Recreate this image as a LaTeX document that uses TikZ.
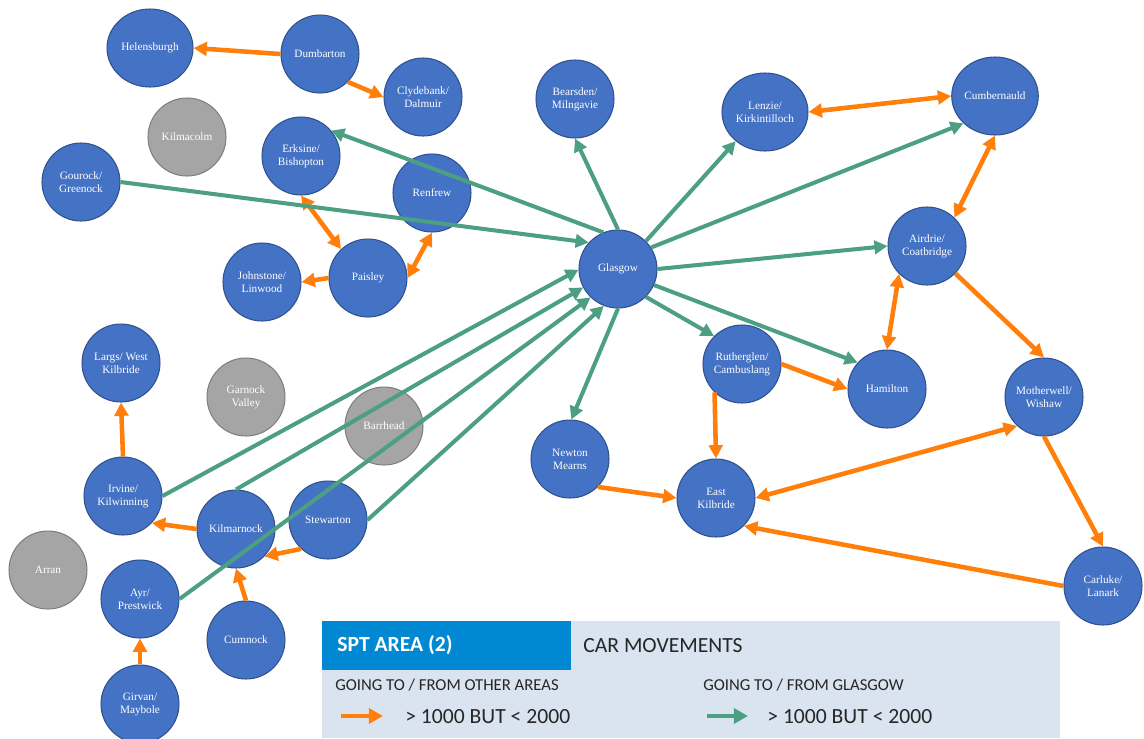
\documentclass[tikz,border=0pt]{standalone}
\usepackage{fontspec}
\setmainfont{Liberation Serif}
\newfontfamily\legendfont{Carlito}
\usetikzlibrary{arrows.meta,shapes.geometric}
\definecolor{nodeblue}{HTML}{4472C4}
\definecolor{nodeedge}{HTML}{2F528F}
\definecolor{graynode}{HTML}{A5A5A5}
\definecolor{grayedge}{HTML}{7F7F7F}
\definecolor{orangeln}{HTML}{FF7F0A}
\definecolor{greenln}{HTML}{4C9F83}
\definecolor{legendbg}{HTML}{DAE3F0}
\definecolor{hdrblue}{HTML}{0089D2}
\begin{document}
\begin{tikzpicture}[x=0.02cm,y=-0.02cm,
 town/.style={circle,fill=nodeblue,draw=nodeedge,line width=0.6pt,minimum size=1.56cm,inner sep=0pt,text=white,align=center,font=\fontsize{6.4}{7.4}\selectfont},
 wide/.style={ellipse,minimum width=1.72cm,minimum height=1.56cm},
 other/.style={town,fill=graynode,draw=grayedge},
 oarr/.style={draw=orangeln,line width=2.6pt,-{Triangle[length=7.6pt,width=7.8pt]}},
 oboth/.style={draw=orangeln,line width=2.6pt,{Triangle[length=7.6pt,width=7.8pt]}-{Triangle[length=7.6pt,width=7.8pt]}},
 garr/.style={draw=greenln,line width=2.3pt,-{Triangle[length=7.4pt,width=7.6pt]}},
 legtext/.style={anchor=base west,inner sep=0pt,font=\legendfont\fontsize{12.3}{14}\selectfont,text=black!85},
 legsmall/.style={anchor=base west,inner sep=0pt,font=\legendfont\fontsize{9.5}{11}\selectfont,text=black!85},
]
\useasboundingbox (0,0) rectangle (1144,738);

% nodes
\node[town,wide] (helensburgh) at (150,48) {Helensburgh};
\node[town] (dumbarton) at (320,54) {Dumbarton};
\node[town] (clydebank) at (423,97) {Clydebank/\\Dalmuir};
\node[other] (kilmacolm) at (187,137) {Kilmacolm};
\node[town] (erksine) at (301,156) {Erksine/\\Bishopton};
\node[town] (gourock) at (81,182) {Gourock/\\Greenock};
\node[town] (renfrew) at (432,193) {Renfrew};
\node[town] (johnstone) at (262,282) {Johnstone/\\Linwood};
\node[town] (paisley) at (368,278) {Paisley};
\node[town] (bearsden) at (575,99) {Bearsden/\\Milngavie};
\node[town,wide] (lenzie) at (765,112) {Lenzie/\\Kirkintilloch};
\node[town] (glasgow) at (618,269) {Glasgow};
\node[town,wide] (cumbernauld) at (995,96) {Cumbernauld};
\node[town] (airdrie) at (927,246) {Airdrie/\\Coatbridge};
\node[town] (largs) at (121,363) {Largs/ West\\Kilbride};
\node[other] (garnock) at (246,397) {Garnock\\Valley};
\node[other] (barrhead) at (384,426) {Barrhead};
\node[town] (irvine) at (123,496) {Irvine/\\Kilwinning};
\node[town] (kilmarnock) at (236,529) {Kilmarnock};
\node[town] (stewarton) at (328,520) {Stewarton};
\node[other] (arran) at (48,570) {Arran};
\node[town] (ayr) at (140,599) {Ayr/\\Prestwick};
\node[town] (cumnock) at (246,640) {Cumnock};
\node[town] (girvan) at (140,704) {Girvan/\\Maybole};
\node[town] (rutherglen) at (742,364) {Rutherglen/\\Cambuslang};
\node[town] (hamilton) at (887,389) {Hamilton};
\node[town] (newton) at (570,459) {Newton\\Mearns};
\node[town] (ek) at (716,498) {East\\Kilbride};
\node[town] (motherwell) at (1044,397) {Motherwell/\\Wishaw};
\node[town] (carluke) at (1103,586) {Carluke/\\Lanark};

% orange connectors (other areas)
\draw[oarr] (dumbarton.west) -- (helensburgh.east);
\draw[oarr] (dumbarton.-45) -- (clydebank.west);
\draw[oboth] (erksine.south) -- (paisley.133);
\draw[oboth] (paisley.east) -- (renfrew.south);
\draw[oarr] (paisley.west) -- (johnstone.east);
\draw[oboth] (lenzie.east) -- (cumbernauld.west);
\draw[oboth] (cumbernauld.south) -- (airdrie.46);
\draw[oarr] (airdrie.-44) -- (motherwell.north);
\draw[oboth] (airdrie.225) -- (hamilton.north);
\draw[oarr] (rutherglen.east) -- (hamilton.west);
\draw[oarr] (rutherglen.226) -- (ek.north);
\draw[oarr] (newton.-45) -- (ek.west);
\draw[oboth] (ek.east) -- (motherwell.227);
\draw[oarr] (carluke.west) -- (ek.-45);
\draw[oarr] (motherwell.south) -- (carluke.north);
\draw[oarr] (irvine.north) -- (largs.south);
\draw[oarr] (kilmarnock.west) -- (irvine.-43);
\draw[oarr] (stewarton.227) -- (kilmarnock.-44);
\draw[oarr] (cumnock.north) -- (kilmarnock.south);
\draw[oarr] (girvan.north) -- (ayr.south);

% green connectors (Glasgow)
\draw[garr] (glasgow.112) -- (erksine.40);
\draw[garr] (gourock.east) -- (glasgow.138);
\draw[garr] (glasgow.north) -- (bearsden.south);
\draw[garr] (glasgow.45) -- (lenzie.225);
\draw[garr] (glasgow.33) -- (cumbernauld.221);
\draw[garr] (glasgow.east) -- (airdrie.west);
\draw[garr] (glasgow.-24) -- (hamilton.138);
\draw[garr] (glasgow.-45) -- (rutherglen.135);
\draw[garr] (glasgow.south) -- (newton.88);
\draw[garr] (irvine.east) -- (glasgow.181);
\draw[garr] (kilmarnock.north) -- (glasgow.208);
\draw[garr] (ayr.east) -- (glasgow.226);
\draw[garr] (stewarton.east) -- (glasgow.249);

% legend
\fill[legendbg] (322,621) rectangle (1060,738);
\fill[hdrblue] (322,621) rectangle (571,670);
\node[legtext,text=white,font=\legendfont\bfseries\fontsize{12.3}{14}\selectfont] (hdr) at (337,651) {SPT AREA (2)};
\node[legtext] (car) at (583,652) {CAR MOVEMENTS};
\node[legsmall] (goth) at (335,690) {GOING TO / FROM OTHER AREAS};
\node[legsmall] (gogl) at (703,690) {GOING TO / FROM GLASGOW};
\node[legtext] (val1) at (405,723) {> 1000 BUT < 2000};
\node[legtext] (val2) at (767,723) {> 1000 BUT < 2000};
\coordinate (lo1) at (341,716);
\coordinate (lo2) at (383,716);
\coordinate (lg1) at (707,716);
\coordinate (lg2) at (748,716);
\draw[draw=orangeln,line width=2.8pt,-{Triangle[length=8pt,width=8.5pt]}] (lo1) -- (lo2);
\draw[draw=greenln,line width=2.8pt,-{Triangle[length=8pt,width=8.5pt]}] (lg1) -- (lg2);
\end{tikzpicture}
\end{document}
